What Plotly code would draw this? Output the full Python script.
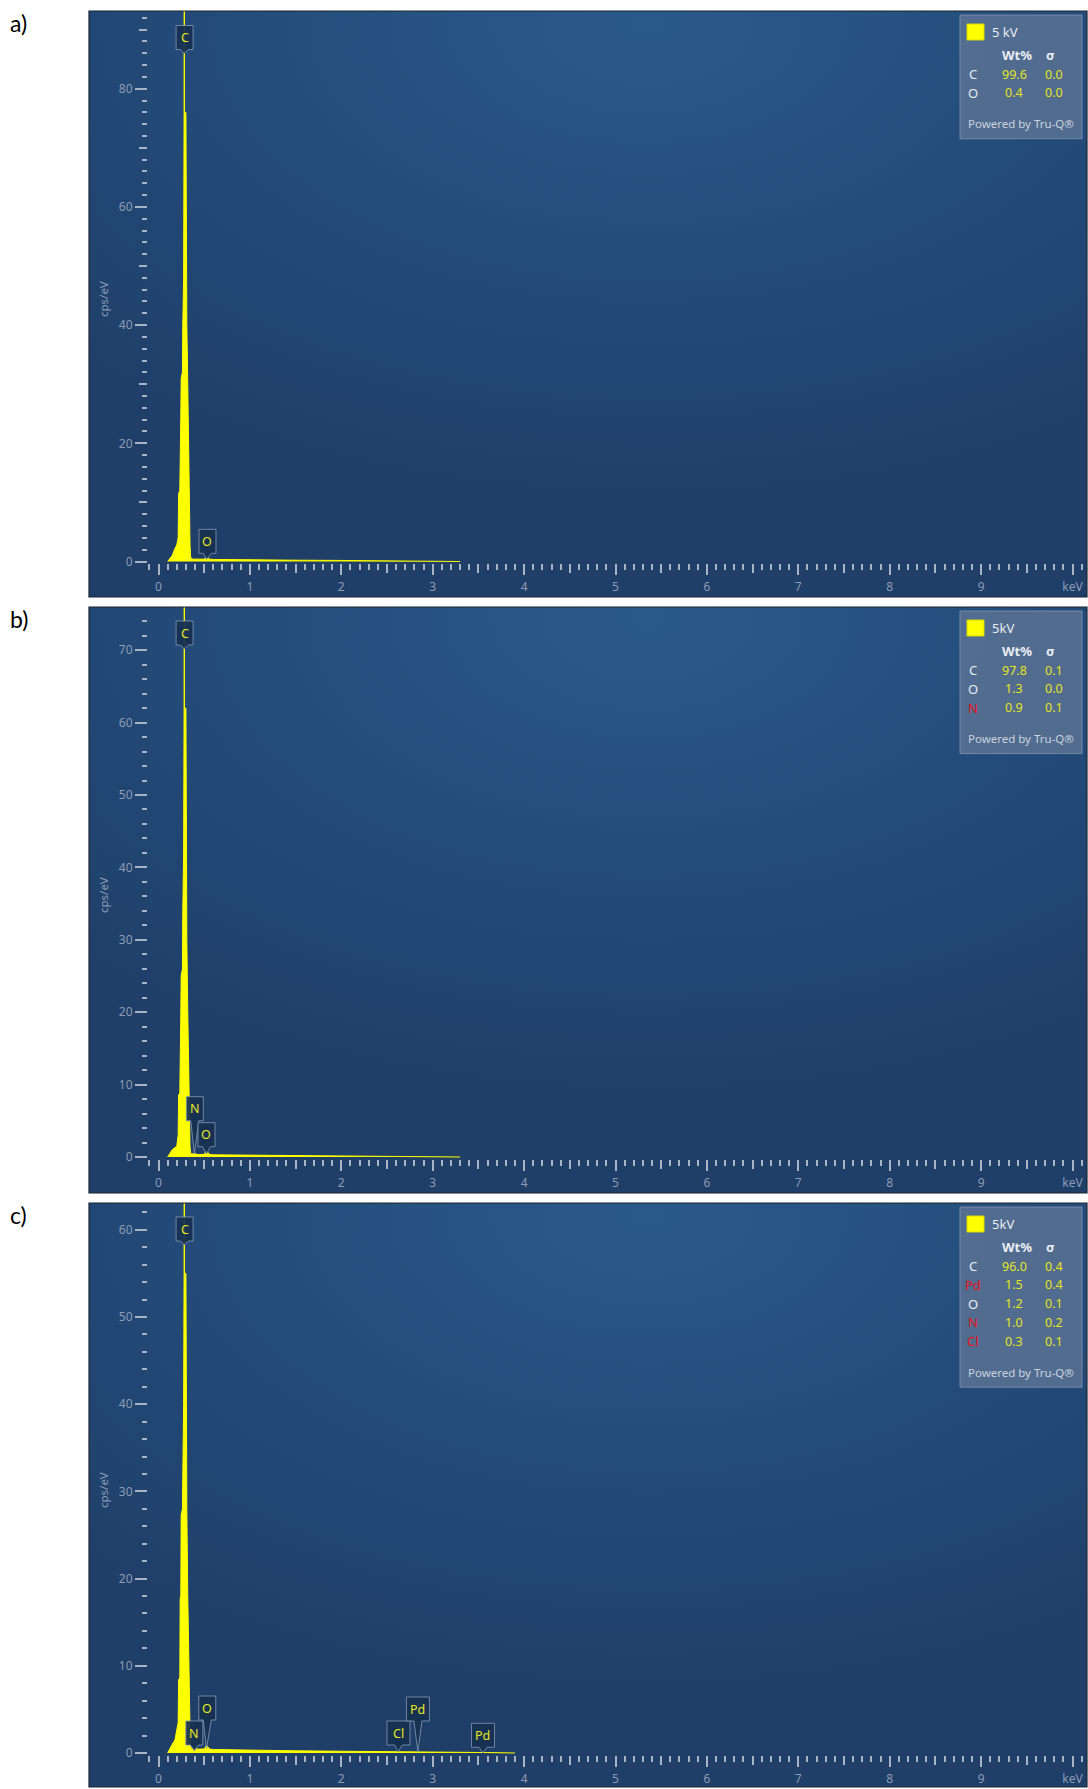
import base64
import plotly.graph_objects as go

W, H = 1088, 1789

# ---------------------------------------------------------------------------
# Spectra: energy (keV) and intensity (cps/eV) for the three acquisitions
# (None = beyond the recorded continuum)
# ---------------------------------------------------------------------------
energy_kev = [
    0.100, 0.125, 0.150, 0.180, 0.200, 0.215, 0.220, 0.233, 0.237, 0.244,
    0.248, 0.262, 0.266, 0.275, 0.280, 0.2815, 0.2825, 0.2835, 0.285, 0.300,
    0.305, 0.310, 0.320, 0.333, 0.345, 0.352, 0.360, 0.380, 0.392, 0.405,
    0.430, 0.500, 0.515, 0.525, 0.535, 0.560, 0.600, 0.800, 1.000, 1.500,
    2.000, 2.500, 2.600, 2.620, 2.640, 2.800, 2.840, 2.880, 3.000, 3.300,
    3.500, 3.550, 3.600, 3.900, 4.000,
]
cps_a = [
    0.0, 0.5, 1.0, 2.2, 2.8, 4.0, 11.5, 12.0, 24.0, 24.5,
    31.0, 32.0, 40.0, 48.0, 76.0, 76.0, 140.0, 76.0, 76.0, 76.0,
    48.0, 40.0, 30.0, 11.5, 2.7, 0.8, 0.45, 0.4, 0.4, 0.4,
    0.4, 0.4, 0.6, 0.75, 0.6, 0.4, 0.35, 0.3, 0.28, 0.22,
    0.18, 0.14, 0.13, 0.13, 0.13, 0.11, 0.11, 0.11, 0.08, 0.0,
    None, None, None, None, None,
]
cps_b = [
    0.0, 0.6, 1.0, 1.3, 1.5, 3.0, 8.6, 8.8, 19.4, 19.6,
    25.0, 26.0, 34.0, 42.0, 62.0, 62.0, 120.0, 62.0, 62.0, 62.0,
    40.0, 30.0, 20.0, 8.6, 1.4, 0.6, 0.4, 0.45, 0.5, 0.45,
    0.35, 0.35, 0.7, 0.9, 0.7, 0.35, 0.3, 0.28, 0.25, 0.2,
    0.16, 0.13, 0.12, 0.12, 0.12, 0.1, 0.1, 0.1, 0.07, 0.0,
    None, None, None, None, None,
]
cps_c = [
    0.0, 0.6, 1.0, 1.5, 2.7, 3.5, 8.4, 8.6, 17.7, 18.0,
    27.3, 28.0, 31.7, 40.0, 55.0, 55.0, 110.0, 55.0, 55.0, 55.0,
    36.0, 28.0, 18.0, 8.4, 2.7, 0.8, 0.5, 0.5, 0.6, 0.5,
    0.45, 0.45, 0.75, 0.9, 0.75, 0.45, 0.4, 0.35, 0.32, 0.25,
    0.2, 0.16, 0.15, 0.2, 0.15, 0.14, 0.2, 0.13, 0.12, 0.08,
    0.06, 0.07, 0.05, 0.0, None,
]

# Peak identification markers (element, line energy in keV)
marks_a = ["C", "O"]
marks_a_kev = [0.28, 0.525]
marks_b = ["C", "N", "O"]
marks_b_kev = [0.28, 0.392, 0.525]
marks_c = ["C", "N", "O", "Cl", "Pd", "Pd"]
marks_c_kev = [0.28, 0.392, 0.525, 2.62, 2.838, 3.55]

# Tru-Q quantification tables
beam_a, beam_b, beam_c = "5 kV", "5kV", "5kV"
quant_a_el = ["C", "O"]
quant_a_wt = [99.6, 0.4]
quant_a_sig = [0.0, 0.0]
quant_b_el = ["C", "O", "N"]
quant_b_wt = [97.8, 1.3, 0.9]
quant_b_sig = [0.1, 0.0, 0.1]
quant_c_el = ["C", "Pd", "O", "N", "Cl"]
quant_c_wt = [96.0, 1.5, 1.2, 1.0, 0.3]
quant_c_sig = [0.4, 0.4, 0.1, 0.2, 0.1]

panel_tags = ["a)", "b)", "c)"]

# Axis ticks
x_major = list(range(11))
x_major_text = [str(k) for k in range(10)] + ["keV"]
x_mid = [k + 0.5 for k in range(10)]
y_major_a = [0, 20, 40, 60, 80]
y_mid_a = [10, 30, 50, 70, 90]
y_major_b = [0, 10, 20, 30, 40, 50, 60, 70]
y_major_c = [0, 10, 20, 30, 40, 50, 60]

# ---------------------------------------------------------------------------
# Styling / geometry (pixels)
# ---------------------------------------------------------------------------
FONT = "Noto Sans, Open Sans, sans-serif"
TICK_COL = "#a7b4c6"
LABEL_COL = "#8c9db6"
SPEC_COL = "#ffff00"
MARK_TXT = "#e8e820"
WHITE_TXT = "#e9eef4"
RED_TXT = "#e3121b"
VAL_TXT = "#e6e61e"

FRAME_L, FRAME_R = 89, 1087
PLOT_L = 148
X0_PX, PX_PER_KEV = 158.5, 91.4
x_range = [(PLOT_L - X0_PX) / PX_PER_KEV, (FRAME_R - X0_PX) / PX_PER_KEV]

# (top, bottom, baseline, px per cps/eV)
panels = [
    dict(top=11, bottom=597, base=561.5, scale=5.91),
    dict(top=607, bottom=1193, base=1157.0, scale=7.24),
    dict(top=1203, bottom=1787, base=1753.0, scale=8.72),
]

# callout placement per marker: (box centre dx, box bottom above baseline, tip above baseline)
callouts = [
    [(0.5, 512, 508), (1.0, 8.2, 2.2)],
    [(0.5, 512, 508), (0.5, 36.3, 3.0), (0.0, 10.3, 3.0)],
    [(0.5, 512, 508), (0.0, 8.0, 2.3), (0.8, 33.0, 4.7),
     (0.5, 8.0, 1.3), (0.0, 32.0, 1.3), (0.0, 5.7, 0.3)],
]


def px_x(x):
    return x / W


def px_y(y):
    return 1 - y / H


def callout_path(text, dx, bottom, tip):
    w = 17 if len(text) == 1 else 23
    h = 24
    top = bottom + h
    l, r = dx - w / 2, dx + w / 2
    n = 4
    return (f"M{l},{top} L{r},{top} L{r},{bottom} L{dx + n},{bottom} "
            f"L0,{tip} L{dx - n},{bottom} L{l},{bottom} Z"), (bottom + top) / 2


bg_svg = (
    '<svg xmlns="http://www.w3.org/2000/svg" width="998" height="586" '
    'viewBox="0 0 998 586" preserveAspectRatio="none"><defs>'
    '<radialGradient id="g" cx="0.56" cy="0.02" r="0.85" fx="0.56" fy="0.02">'
    '<stop offset="0" stop-color="#2a5a89"/><stop offset="0.55" stop-color="#234a78"/>'
    '<stop offset="1" stop-color="#1f3e68"/></radialGradient></defs>'
    '<rect width="998" height="586" fill="url(#g)"/></svg>'
)
bg_uri = "data:image/svg+xml;base64," + base64.b64encode(bg_svg.encode()).decode()

spectra = [cps_a, cps_b, cps_c]
marks = [(marks_a, marks_a_kev), (marks_b, marks_b_kev), (marks_c, marks_c_kev)]
tables = [
    (beam_a, quant_a_el, quant_a_wt, quant_a_sig),
    (beam_b, quant_b_el, quant_b_wt, quant_b_sig),
    (beam_c, quant_c_el, quant_c_wt, quant_c_sig),
]
y_majors = [y_major_a, y_major_b, y_major_c]
flagged = {"N", "Pd", "Cl"}

fig = go.Figure()
layout = dict(
    width=W, height=H, margin=dict(l=0, r=0, t=0, b=0),
    paper_bgcolor="white", plot_bgcolor="rgba(0,0,0,0)",
    showlegend=False, font=dict(family=FONT),
)
shapes, annotations, images = [], [], []

for i, p in enumerate(panels):
    sfx = "" if i == 0 else str(i + 1)
    xa, ya = "x" + sfx, "y" + sfx
    y_range = [-(p["bottom"] - p["base"]) / p["scale"], (p["base"] - p["top"]) / p["scale"]]

    fig.add_trace(go.Scatter(
        x=energy_kev, y=spectra[i], mode="lines", xaxis=xa, yaxis=ya,
        line=dict(color=SPEC_COL, width=1), fill="tozeroy", fillcolor=SPEC_COL,
        hoverinfo="skip", connectgaps=False,
    ))

    tick_font = dict(family=FONT, size=12, color=LABEL_COL)
    axis_pos = px_y(p["base"] + 1.5)
    layout["xaxis" + sfx] = dict(
        domain=[px_x(PLOT_L), px_x(FRAME_R)], range=x_range, anchor="free",
        position=axis_pos, showgrid=False, zeroline=False, showline=False,
        ticks="outside", ticklen=11, tickwidth=2, tickcolor=TICK_COL,
        tickmode="array", tickvals=x_major, ticktext=x_major_text,
        tickfont=tick_font, ticklabelstandoff=2,
        minor=dict(ticks="outside", ticklen=6, tickwidth=2, tickcolor=TICK_COL,
                   tick0=0, dtick=0.1),
        fixedrange=True,
    )
    top_val = y_range[1]
    layout["yaxis" + sfx] = dict(
        domain=[px_y(p["bottom"]), px_y(p["top"])], range=y_range, anchor=xa,
        showgrid=False, zeroline=False, showline=False,
        ticks="outside", ticklen=12, tickwidth=2, tickcolor=TICK_COL,
        tickmode="array", tickvals=y_majors[i], tickfont=tick_font,
        minor=dict(ticks="outside", ticklen=5, tickwidth=2, tickcolor=TICK_COL,
                   tickmode="array",
                   tickvals=[v for v in range(2, int(top_val) + 1, 2)]),
        fixedrange=True,
    )

    # half-keV ticks on an overlaid axis
    mid_x = "x" + str(i + 4)
    layout["xaxis" + str(i + 4)] = dict(
        overlaying=xa, range=x_range, anchor="free", position=axis_pos,
        showgrid=False, zeroline=False, showline=False, ticks="outside",
        ticklen=9, tickwidth=2, tickcolor=TICK_COL, tickmode="array",
        tickvals=x_mid, showticklabels=False, fixedrange=True,
    )
    fig.add_trace(go.Scatter(x=[None], y=[None], xaxis=mid_x, yaxis=ya,
                             mode="lines", hoverinfo="skip"))

    # panel background and frame
    images.append(dict(
        source=bg_uri, xref="paper", yref="paper", x=px_x(FRAME_L), y=px_y(p["top"]),
        sizex=(FRAME_R - FRAME_L) / W, sizey=(p["bottom"] - p["top"]) / H,
        xanchor="left", yanchor="top", sizing="stretch", layer="below",
    ))
    shapes.append(dict(
        type="rect", xref="paper", yref="paper", x0=px_x(FRAME_L), x1=px_x(FRAME_R),
        y0=px_y(p["bottom"]), y1=px_y(p["top"]), line=dict(color="#1b2433", width=1.2),
        layer="above",
    ))

    # y axis title
    annotations.append(dict(
        text="cps/eV", xref="paper", yref="paper", x=px_x(103),
        y=px_y((p["top"] + p["bottom"]) / 2 - 5),
        showarrow=False, textangle=-90, font=dict(family=FONT, size=11.5, color=LABEL_COL),
        xanchor="center", yanchor="middle",
    ))

    # panel tag
    annotations.append(dict(
        text=panel_tags[i], xref="paper", yref="paper", x=px_x(8), y=px_y(p["top"] + 12),
        showarrow=False, xanchor="left", yanchor="middle",
        font=dict(family="Lato, Carlito, sans-serif", size=23, color="black"),
    ))

    # peak callouts
    names, kevs = marks[i]
    for (name, kev), (dx, bottom, tip) in zip(zip(names, kevs), callouts[i]):
        path, mid = callout_path(name, dx, bottom, tip)
        shapes.append(dict(
            type="path", xref=xa, yref=ya, xsizemode="pixel", ysizemode="pixel",
            xanchor=kev, yanchor=0, path=path,
            fillcolor="rgba(23,48,82,0.93)", line=dict(color="rgba(128,148,178,0.85)", width=1),
            layer="above",
        ))
        annotations.append(dict(
            text=name, xref=xa, yref=ya, x=kev, y=0, xshift=dx, yshift=mid,
            showarrow=False, xanchor="center", yanchor="middle",
            font=dict(family=FONT, size=12.5, color=MARK_TXT),
        ))

    # quantification box
    beam, els, wts, sigs = tables[i]
    bx0, bx1 = 960, 1082
    btop = p["top"] + 4
    head_y = btop + 40
    row_y = [head_y + 19 + 18.8 * k for k in range(len(els))]
    powered_y = row_y[-1] + 31
    bbot = powered_y + 15
    shapes.append(dict(
        type="rect", xref="paper", yref="paper", x0=px_x(bx0), x1=px_x(bx1),
        y0=px_y(bbot), y1=px_y(btop), fillcolor="rgba(90,114,148,0.85)",
        line=dict(color="rgba(120,142,172,0.9)", width=1), layer="above",
    ))
    shapes.append(dict(
        type="rect", xref="paper", yref="paper", x0=px_x(bx0 + 7), x1=px_x(bx0 + 24),
        y0=px_y(btop + 25), y1=px_y(btop + 9), fillcolor="#ffff00",
        line=dict(color="#d8d800", width=1), layer="above",
    ))
    annotations.append(dict(
        text=beam, xref="paper", yref="paper", x=px_x(bx0 + 30), y=px_y(btop + 17),
        showarrow=False, xanchor="left", yanchor="middle",
        font=dict(family=FONT, size=13, color=WHITE_TXT),
    ))
    annotations.append(dict(
        text="<b>Wt%</b>", xref="paper", yref="paper", x=px_x(bx0 + 57), y=px_y(head_y),
        showarrow=False, xanchor="center", yanchor="middle",
        font=dict(family=FONT, size=13, color=WHITE_TXT),
    ))
    annotations.append(dict(
        text="<b>σ</b>", xref="paper", yref="paper", x=px_x(bx0 + 90), y=px_y(head_y),
        showarrow=False, xanchor="center", yanchor="middle",
        font=dict(family=FONT, size=13, color=WHITE_TXT),
    ))
    for el, wt, sg, ry in zip(els, wts, sigs, row_y):
        annotations.append(dict(
            text=el, xref="paper", yref="paper", x=px_x(bx0 + 13), y=px_y(ry),
            showarrow=False, xanchor="center", yanchor="middle",
            font=dict(family=FONT, size=13, color=RED_TXT if el in flagged else WHITE_TXT),
        ))
        annotations.append(dict(
            text=f"{wt:.1f}", xref="paper", yref="paper", x=px_x(bx0 + 54), y=px_y(ry),
            showarrow=False, xanchor="center", yanchor="middle",
            font=dict(family=FONT, size=12.5, color=VAL_TXT),
        ))
        annotations.append(dict(
            text=f"{sg:.1f}", xref="paper", yref="paper", x=px_x(bx0 + 94), y=px_y(ry),
            showarrow=False, xanchor="center", yanchor="middle",
            font=dict(family=FONT, size=12.5, color=VAL_TXT),
        ))
    annotations.append(dict(
        text="Powered by Tru-Q®", xref="paper", yref="paper", x=px_x(bx0 + 61),
        y=px_y(powered_y), showarrow=False, xanchor="center", yanchor="middle",
        font=dict(family=FONT, size=11.5, color="#c9d3df"),
    ))

# ten-unit ticks between the labelled ones on the first panel
layout["yaxis7"] = dict(
    overlaying="y", anchor="x", side="left", range=[-(597 - 561.5) / 5.91, (561.5 - 11) / 5.91],
    showgrid=False, zeroline=False, showline=False, ticks="outside", ticklen=8,
    tickwidth=2, tickcolor=TICK_COL, tickmode="array", tickvals=y_mid_a,
    showticklabels=False, fixedrange=True,
)
fig.add_trace(go.Scatter(x=[None], y=[None], xaxis="x", yaxis="y7",
                         mode="lines", hoverinfo="skip"))

layout["shapes"] = shapes
layout["annotations"] = annotations
layout["images"] = images
fig.update_layout(**layout)
fig.write_html("out.html", config={"displayModeBar": False})
